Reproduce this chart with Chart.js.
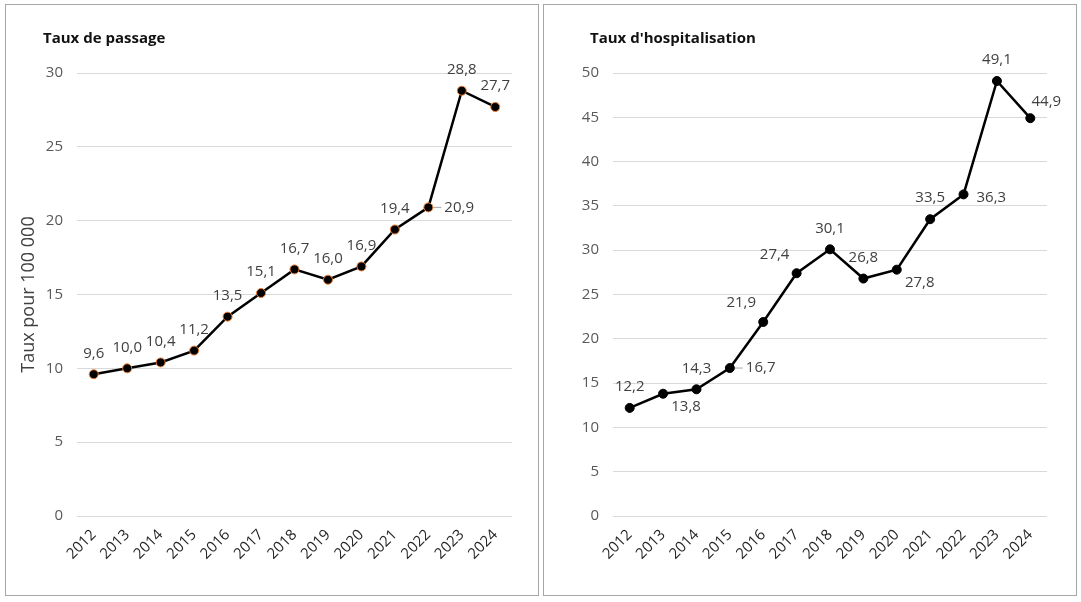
<!DOCTYPE html>
<html>
<head>
<meta charset="utf-8">
<script src="https://cdn.jsdelivr.net/npm/chart.js@4.4.1/dist/chart.umd.min.js"></script>
<style>
   body { margin: 0; background: #fff; width: 1081px; height: 602px; overflow: hidden; }
   .panel { position: absolute; top: 4px; width: 532px; height: 590px; border: 1px solid #a6a6a6; }
   #p1 { left: 5px; }
   #p2 { left: 543px; }
   canvas { display: block; }
</style>
</head>
<body>
<div class="panel" id="p1"><canvas id="c1"></canvas></div>
<div class="panel" id="p2"><canvas id="c2"></canvas></div>
<script>
// ==========================================
// Data
// ==========================================

const years = ["2012", "2013", "2014", "2015", "2016", "2017", "2018",
   "2019", "2020", "2021", "2022", "2023", "2024"];

const passage = [9.6, 10.0, 10.4, 11.2, 13.5, 15.1, 16.7, 16.0, 16.9, 19.4, 20.9, 28.8, 27.7];
const hospit = [12.2, 13.8, 14.3, 16.7, 21.9, 27.4, 30.1, 26.8, 27.8, 33.5, 36.3, 49.1, 44.9];

const passageMax = 30;
const hospitMax = 50;
const tickStep = 5;

// where each value label sits next to its point
const passageLabelPos = ["t", "t", "t", "t", "t", "t", "t", "t", "t", "t", "rl", "t", "t"];
const hospitLabelPos = ["t", "br", "t", "rl", "tl", "tl", "t", "t", "br", "t", "r", "t", "tr"];

const FONT = '"Open Sans", "Noto Sans", sans-serif';

// ==========================================
// Plugins
// ==========================================

const panelTitle = {
   id: "panelTitle",
   afterDraw(chart, args, opts) {
      const ctx = chart.ctx;
      ctx.save();
      ctx.font = "bold 15px " + FONT;
      ctx.fillStyle = "#111";
      ctx.textAlign = "left";
      ctx.textBaseline = "alphabetic";
      ctx.fillText(opts.text, opts.x, opts.y);
      ctx.restore();
   }
};

const pointLabels = {
   id: "pointLabels",
   afterDatasetsDraw(chart, args, opts) {
      const ctx = chart.ctx;
      const meta = chart.getDatasetMeta(0);
      const values = chart.data.datasets[0].data;
      ctx.save();
      ctx.font = "15px " + FONT;
      ctx.fillStyle = "#404040";
      ctx.textBaseline = "middle";
      meta.data.forEach((pt, i) => {
         const text = values[i].toFixed(1).replace(".", ",");
         let x = pt.x, y = pt.y, align = "center";
         switch (opts.positions[i]) {
            case "t": y -= 21; break;
            case "tl": x -= 22; y -= 19; break;
            case "tr": x += 16; y -= 16; break;
            case "br": x += 23; y += 13; break;
            case "r": x += 13; y += 3; align = "left"; break;
            case "rl":
               ctx.strokeStyle = "#a6a6a6";
               ctx.lineWidth = 1;
               ctx.beginPath();
               ctx.moveTo(pt.x + 5, pt.y);
               ctx.lineTo(pt.x + 13, pt.y);
               ctx.stroke();
               x += 16; align = "left"; break;
         }
         ctx.textAlign = align;
         ctx.fillText(text, x, y);
      });
      ctx.restore();
   }
};

// ==========================================
// Charts
// ==========================================

function makeChart(el, values, max, title, titleX, labelPos, ringColor, axisTitle, axisWidth, padRight) {
   return new Chart(document.getElementById(el), {
      type: "line",
      data: {
         labels: years,
         datasets: [{
            data: values,
            borderColor: "#000",
            borderWidth: 2.5,
            tension: 0,
            pointRadius: 4.5,
            pointBackgroundColor: "#000",
            pointBorderColor: ringColor,
            pointBorderWidth: 1
         }]
      },
      options: {
         responsive: true,
         maintainAspectRatio: false,
         animation: false,
         layout: { padding: { left: 0, right: padRight, top: 68, bottom: 20 } },
         plugins: {
            legend: { display: false },
            tooltip: { enabled: false },
            panelTitle: { text: title, x: titleX, y: 38 },
            pointLabels: { positions: labelPos }
         },
         scales: {
            x: {
               offset: true,
               grid: { display: false },
               border: { display: false },
               afterFit: (s) => { s.height = 59; },
               ticks: {
                  minRotation: 45,
                  maxRotation: 45,
                  padding: 2,
                  color: "#262626",
                  font: { family: FONT, size: 15 }
               }
            },
            y: {
               min: 0,
               max: max,
               border: { display: false },
               grid: { color: "#d9d9d9", drawTicks: false },
               afterFit: (s) => { s.width = axisWidth; },
               ticks: {
                  stepSize: tickStep,
                  padding: 14,
                  color: "#595959",
                  font: { family: FONT, size: 15 }
               },
               title: {
                  display: axisTitle != "",
                  text: axisTitle,
                  color: "#404040",
                  font: { family: FONT, size: 18 },
                  padding: { top: 12, bottom: 0 }
               }
            }
         }
      },
      plugins: [panelTitle, pointLabels]
   });
}

makeChart("c1", passage, passageMax, "Taux de passage", 37, passageLabelPos, "#ed7d31",
   "Taux pour 100 000", 71, 26);
makeChart("c2", hospit, hospitMax, "Taux d'hospitalisation", 46, hospitLabelPos, "#000",
   "", 69, 29);
</script>
</body>
</html>
